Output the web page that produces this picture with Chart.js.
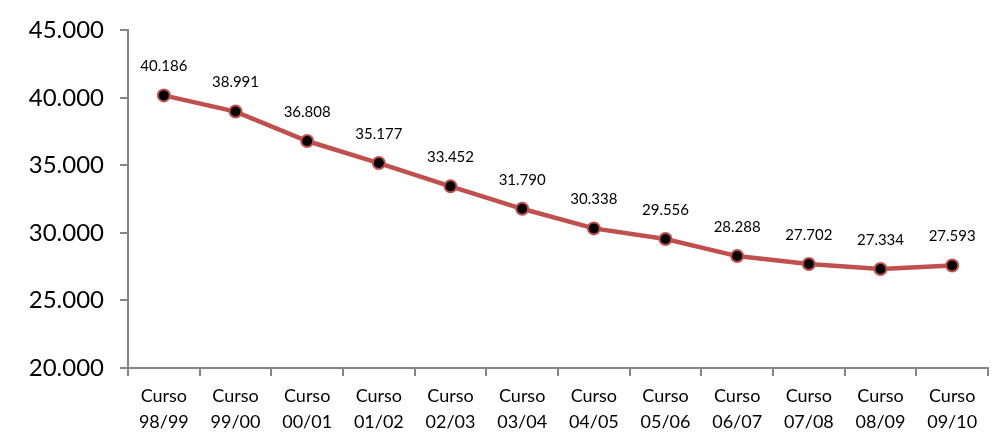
<!DOCTYPE html>
<html>
<head>
<meta charset="utf-8">
<script src="https://cdn.jsdelivr.net/npm/chart.js@4.4.1/dist/chart.umd.min.js"></script>
<style>
  html, body { margin: 0; padding: 0; background: #fff; }
  #wrap { width: 1005px; height: 444px; }
</style>
</head>
<body>
<div id="wrap"><canvas id="mycanvas" width="1005" height="444"></canvas></div>
<script>
var cursos = ['98/99', '99/00', '00/01', '01/02', '02/03', '03/04', '04/05', '05/06', '06/07', '07/08', '08/09', '09/10'];
var alumnos = [40186, 38991, 36808, 35177, 33452, 31790, 30338, 29556, 28288, 27702, 27334, 27593];
var yTicks = [20000, 25000, 30000, 35000, 40000, 45000];

var labels = [];
for (var i in cursos) {
  labels.push(['Curso', cursos[i]]);
}

// 40186 -> "40.186"
var fmt = function(v) {
  return String(v).replace(/\B(?=(\d{3})+(?!\d))/g, '.');
};

var valueLabels = {
  id: 'valueLabels',
  afterDatasetsDraw: function(chart) {
    var ctx = chart.ctx;
    var meta = chart.getDatasetMeta(0);
    ctx.save();
    ctx.font = '15px Lato';
    ctx.fillStyle = '#000';
    ctx.textAlign = 'center';
    ctx.textBaseline = 'middle';
    meta.data.forEach(function(pt, idx) {
      ctx.fillText(fmt(alumnos[idx]), pt.x, pt.y - 29);
    });
    ctx.restore();
  }
};

var axisColor = '#868686';

new Chart(document.getElementById('mycanvas'), {
  type: 'line',
  data: {
    labels: labels,
    datasets: [{
      label: 'Alumnos',
      data: alumnos,
      borderColor: '#C0504D',
      borderWidth: 4.5,
      fill: false,
      tension: 0,
      pointRadius: 6,
      pointBorderWidth: 2,
      pointBackgroundColor: '#000',
      pointBorderColor: '#C0504D'
    }]
  },
  options: {
    responsive: false,
    animation: false,
    layout: { padding: { top: 29, right: 17, bottom: 0, left: 0 } },
    plugins: {
      legend: { display: false },
      tooltip: { enabled: false }
    },
    scales: {
      x: {
        offset: true,
        grid: { offset: true, drawOnChartArea: false, drawTicks: true, tickLength: 8, color: axisColor, lineWidth: 2 },
        border: { color: axisColor, width: 2 },
        ticks: { color: '#000', font: { family: 'Lato', size: 18, lineHeight: 1.4 }, padding: 8, maxRotation: 0, autoSkip: false },
        afterFit: function(s) { s.height = 76; }
      },
      y: {
        min: 20000,
        max: 45000,
        afterBuildTicks: function(s) { s.ticks = yTicks.map(function(v) { return { value: v }; }); },
        grid: { drawOnChartArea: false, drawTicks: true, tickLength: 8, color: axisColor, lineWidth: 2 },
        border: { color: axisColor, width: 2 },
        ticks: { color: '#000', font: { family: 'Lato', size: 24 }, padding: 16, callback: function(v) { return fmt(v); } },
        afterFit: function(s) { s.width = 128; }
      }
    }
  },
  plugins: [valueLabels]
});
</script>
</body>
</html>
